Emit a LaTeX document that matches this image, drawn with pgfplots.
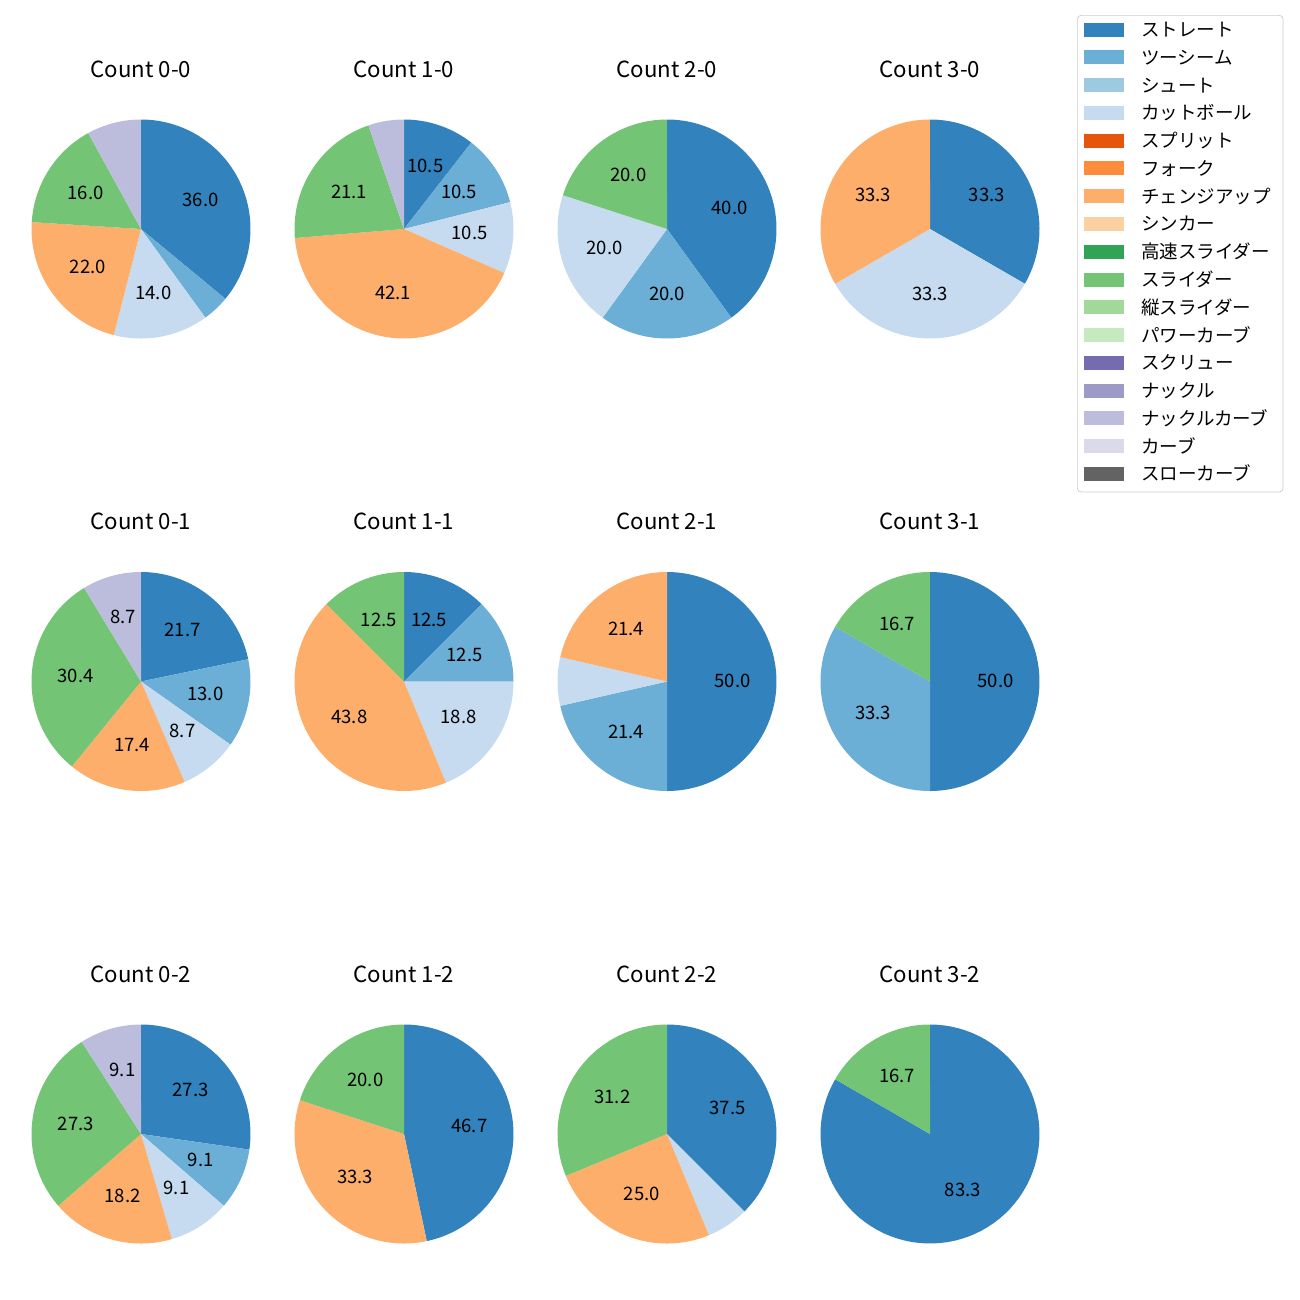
\documentclass[border=0pt]{standalone}
\usepackage{pgfplots}
\pgfplotsset{compat=1.18}
\usepackage{fontspec}
\setmainfont{Noto Sans CJK JP}
\definecolor{c0}{HTML}{3182BD}
\definecolor{c1}{HTML}{6BAED6}
\definecolor{c2}{HTML}{9ECAE1}
\definecolor{c3}{HTML}{C6DBEF}
\definecolor{c4}{HTML}{E6550D}
\definecolor{c5}{HTML}{FD8D3C}
\definecolor{c6}{HTML}{FDAE6B}
\definecolor{c7}{HTML}{FDD0A2}
\definecolor{c8}{HTML}{31A354}
\definecolor{c9}{HTML}{74C476}
\definecolor{c10}{HTML}{A1D99B}
\definecolor{c11}{HTML}{C7E9C0}
\definecolor{c12}{HTML}{756BB1}
\definecolor{c13}{HTML}{9E9AC8}
\definecolor{c14}{HTML}{BCBDDC}
\definecolor{c15}{HTML}{DADAEB}
\definecolor{c16}{HTML}{636363}
% wedge: colour, start count, end count, total
\newcommand{\pw}[4]{\addplot[fill=#1, draw=none, forget plot, domain=90-360*#3/#4:90-360*#2/#4, samples=80, variable=\t] ({cos(\t)},{sin(\t)}) -- (axis cs:0,0) -- cycle;}
% label: start, end, total, text
\newcommand{\pl}[4]{\node[lab] at (axis cs:{0.6*cos(90-180*(#1+#2)/#3)},{0.6*sin(90-180*(#1+#2)/#3)}) {#4};}
\newcommand{\ttl}[1]{\node[ttlstyle] at (axis cs:0,1.4612) {#1};}
\newcommand{\legsw}[2]{\addlegendimage{legend image code/.code={\fill[#1, sharp corners] (0pt,-2.42pt) rectangle (21pt,4.58pt);}}\addlegendentry{\makebox[72.9pt][l]{#2}}}
\pgfplotsset{pie/.style={hide axis, scale only axis, width=118.26pt, height=118.26pt,
  xmin=-1, xmax=1, ymin=-1, ymax=1, anchor=center, clip=false}}
\tikzset{lab/.style={font=\fontsize{10}{12}\selectfont, inner sep=0pt, anchor=center, yshift=0.6pt},
  ttlstyle/.style={font=\fontsize{12}{14.4}\selectfont, inner sep=0pt, anchor=center}}
\begin{document}
\begin{tikzpicture}
\useasboundingbox (0,0) rectangle (702pt,-702pt);
% ---------- row 1 ----------
\begin{axis}[pie, at={(76.14pt,-123.66pt)}]
\pw{c0}{0}{18}{50}\pw{c1}{18}{20}{50}\pw{c3}{20}{27}{50}\pw{c6}{27}{38}{50}\pw{c9}{38}{46}{50}\pw{c14}{46}{50}{50}
\pl{0}{18}{50}{36.0}\pl{20}{27}{50}{14.0}\pl{27}{38}{50}{22.0}\pl{38}{46}{50}{16.0}
\ttl{Count 0-0}
\end{axis}
\begin{axis}[pie, at={(218.16pt,-123.66pt)}]
\pw{c0}{0}{2}{19}\pw{c1}{2}{4}{19}\pw{c3}{4}{6}{19}\pw{c6}{6}{14}{19}\pw{c9}{14}{18}{19}\pw{c14}{18}{19}{19}
\pl{0}{2}{19}{10.5}\pl{2}{4}{19}{10.5}\pl{4}{6}{19}{10.5}\pl{6}{14}{19}{42.1}\pl{14}{18}{19}{21.1}
\ttl{Count 1-0}
\end{axis}
\begin{axis}[pie, at={(360.18pt,-123.66pt)}]
\pw{c0}{0}{2}{5}\pw{c1}{2}{3}{5}\pw{c3}{3}{4}{5}\pw{c9}{4}{5}{5}
\pl{0}{2}{5}{40.0}\pl{2}{3}{5}{20.0}\pl{3}{4}{5}{20.0}\pl{4}{5}{5}{20.0}
\ttl{Count 2-0}
\end{axis}
\begin{axis}[pie, at={(502.2pt,-123.66pt)},
  legend style={at={(1.1712,1.4772)}, anchor=north west, draw=black!20, rounded corners=2pt, fill=white,
    font=\fontsize{10}{12}\selectfont, inner xsep=3.8pt, inner ysep=2.9pt, row sep=3.44pt,
    nodes={inner sep=0pt, text height=8.5pt, text depth=3.06pt},
    /tikz/every odd column/.append style={column sep=9.2pt}},
  legend cell align=left]
\pw{c0}{0}{1}{3}\pw{c3}{1}{2}{3}\pw{c6}{2}{3}{3}
\pl{0}{1}{3}{33.3}\pl{1}{2}{3}{33.3}\pl{2}{3}{3}{33.3}
\ttl{Count 3-0}
\legsw{c0}{ストレート}
\legsw{c1}{ツーシーム}
\legsw{c2}{シュート}
\legsw{c3}{カットボール}
\legsw{c4}{スプリット}
\legsw{c5}{フォーク}
\legsw{c6}{チェンジアップ}
\legsw{c7}{シンカー}
\legsw{c8}{高速スライダー}
\legsw{c9}{スライダー}
\legsw{c10}{縦スライダー}
\legsw{c11}{パワーカーブ}
\legsw{c12}{スクリュー}
\legsw{c13}{ナックル}
\legsw{c14}{ナックルカーブ}
\legsw{c15}{カーブ}
\legsw{c16}{スローカーブ}
\end{axis}
% ---------- row 2 ----------
\begin{axis}[pie, at={(76.14pt,-368.01pt)}]
\pw{c0}{0}{5}{23}\pw{c1}{5}{8}{23}\pw{c3}{8}{10}{23}\pw{c6}{10}{14}{23}\pw{c9}{14}{21}{23}\pw{c14}{21}{23}{23}
\pl{0}{5}{23}{21.7}\pl{5}{8}{23}{13.0}\pl{8}{10}{23}{8.7}\pl{10}{14}{23}{17.4}\pl{14}{21}{23}{30.4}\pl{21}{23}{23}{8.7}
\ttl{Count 0-1}
\end{axis}
\begin{axis}[pie, at={(218.16pt,-368.01pt)}]
\pw{c0}{0}{2}{16}\pw{c1}{2}{4}{16}\pw{c3}{4}{7}{16}\pw{c6}{7}{14}{16}\pw{c9}{14}{16}{16}
\pl{0}{2}{16}{12.5}\pl{2}{4}{16}{12.5}\pl{4}{7}{16}{18.8}\pl{7}{14}{16}{43.8}\pl{14}{16}{16}{12.5}
\ttl{Count 1-1}
\end{axis}
\begin{axis}[pie, at={(360.18pt,-368.01pt)}]
\pw{c0}{0}{7}{14}\pw{c1}{7}{10}{14}\pw{c3}{10}{11}{14}\pw{c6}{11}{14}{14}
\pl{0}{7}{14}{50.0}\pl{7}{10}{14}{21.4}\pl{11}{14}{14}{21.4}
\ttl{Count 2-1}
\end{axis}
\begin{axis}[pie, at={(502.2pt,-368.01pt)}]
\pw{c0}{0}{3}{6}\pw{c1}{3}{5}{6}\pw{c9}{5}{6}{6}
\pl{0}{3}{6}{50.0}\pl{3}{5}{6}{33.3}\pl{5}{6}{6}{16.7}
\ttl{Count 3-1}
\end{axis}
% ---------- row 3 ----------
\begin{axis}[pie, at={(76.14pt,-612.36pt)}]
\pw{c0}{0}{3}{11}\pw{c1}{3}{4}{11}\pw{c3}{4}{5}{11}\pw{c6}{5}{7}{11}\pw{c9}{7}{10}{11}\pw{c14}{10}{11}{11}
\pl{0}{3}{11}{27.3}\pl{3}{4}{11}{9.1}\pl{4}{5}{11}{9.1}\pl{5}{7}{11}{18.2}\pl{7}{10}{11}{27.3}\pl{10}{11}{11}{9.1}
\ttl{Count 0-2}
\end{axis}
\begin{axis}[pie, at={(218.16pt,-612.36pt)}]
\pw{c0}{0}{7}{15}\pw{c6}{7}{12}{15}\pw{c9}{12}{15}{15}
\pl{0}{7}{15}{46.7}\pl{7}{12}{15}{33.3}\pl{12}{15}{15}{20.0}
\ttl{Count 1-2}
\end{axis}
\begin{axis}[pie, at={(360.18pt,-612.36pt)}]
\pw{c0}{0}{6}{16}\pw{c3}{6}{7}{16}\pw{c6}{7}{11}{16}\pw{c9}{11}{16}{16}
\pl{0}{6}{16}{37.5}\pl{7}{11}{16}{25.0}\pl{11}{16}{16}{31.2}
\ttl{Count 2-2}
\end{axis}
\begin{axis}[pie, at={(502.2pt,-612.36pt)}]
\pw{c0}{0}{5}{6}\pw{c9}{5}{6}{6}
\pl{0}{5}{6}{83.3}\pl{5}{6}{6}{16.7}
\ttl{Count 3-2}
\end{axis}
\end{tikzpicture}
\end{document}
